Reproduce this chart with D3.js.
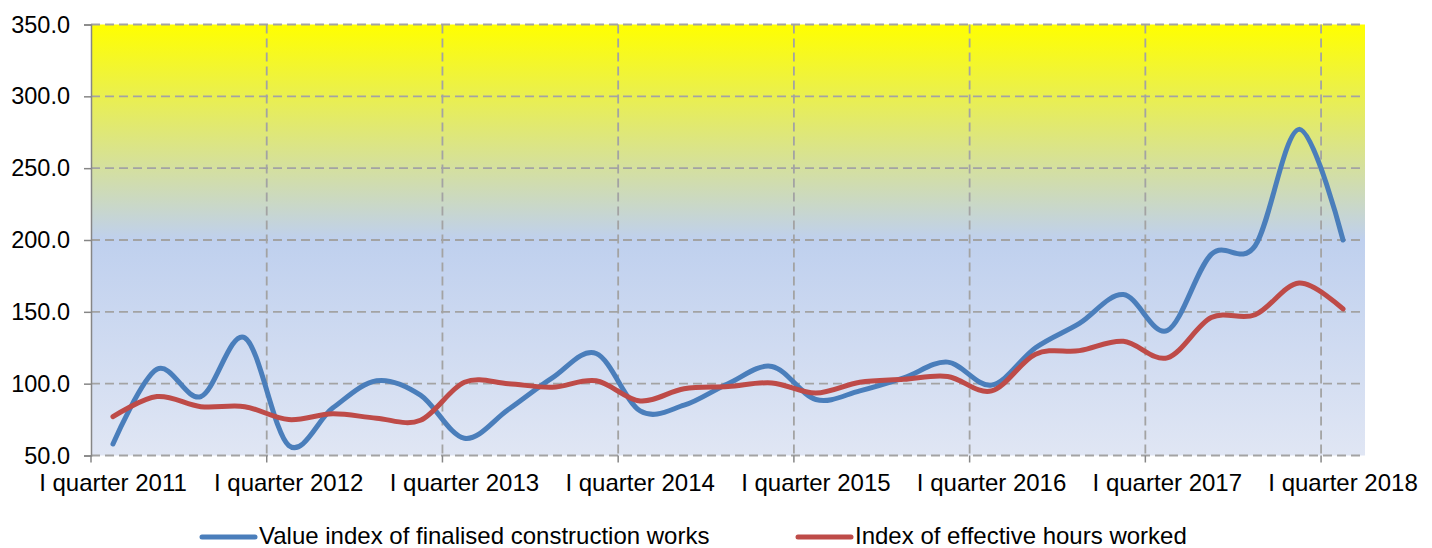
<!DOCTYPE html>
<html>
<head>
<meta charset="utf-8">
<script src="https://cdn.jsdelivr.net/npm/d3@7"></script>
<style>
  html, body { margin: 0; padding: 0; background: #ffffff; }
  svg { display: block; }
  text { font-family: "Liberation Sans", Arial, sans-serif; fill: #000; }
</style>
</head>
<body>
<svg id="chart" width="1432" height="548"></svg>
<script>
// ---- data ----
const categories = [
  "I quarter 2011","II quarter 2011","III quarter 2011","IV quarter 2011",
  "I quarter 2012","II quarter 2012","III quarter 2012","IV quarter 2012",
  "I quarter 2013","II quarter 2013","III quarter 2013","IV quarter 2013",
  "I quarter 2014","II quarter 2014","III quarter 2014","IV quarter 2014",
  "I quarter 2015","II quarter 2015","III quarter 2015","IV quarter 2015",
  "I quarter 2016","II quarter 2016","III quarter 2016","IV quarter 2016",
  "I quarter 2017","II quarter 2017","III quarter 2017","IV quarter 2017",
  "I quarter 2018"
];
const valueIndex = [58, 110, 91, 132, 57, 83, 102, 92, 62, 82, 104, 121, 81, 85, 100, 112,
                    89, 95, 104, 115, 99, 125, 142, 162, 137, 190, 196, 277, 200];
const hoursIndex = [77, 91, 84, 84, 75, 79, 76, 74.5, 101, 100, 97.5, 102, 88, 96.5, 98, 100.5,
                    93.5, 101, 103, 105, 95, 120.5, 123, 129.5, 118, 146, 148, 170, 152];
const seriesNames = ["Value index of finalised construction works", "Index of effective hours worked"];
const yTicks = [50, 100, 150, 200, 250, 300, 350];
const labelledCategories = ["I quarter 2011","I quarter 2012","I quarter 2013","I quarter 2014",
                            "I quarter 2015","I quarter 2016","I quarter 2017","I quarter 2018"];

// ---- layout ----
const svg = d3.select("#chart");
const plotL = 91, plotR = 1365, plotT = 24.5, plotB = 455.5;
const colors = ["#4A7EBB", "#BE4B48"];
const gridColor = "#A3A3A3";

const x = d3.scaleBand().domain(categories).range([plotL, plotR]).padding(0);
const y = d3.scaleLinear().domain([50, 350]).range([plotB, plotT]);
const cx = c => x(c) + x.bandwidth() / 2;

// background gradient
const defs = svg.append("defs");
const grad = defs.append("linearGradient").attr("id", "bg").attr("x1", 0).attr("y1", 0).attr("x2", 0).attr("y2", 1);
grad.append("stop").attr("offset", "0%").attr("stop-color", "#FFFF00");
grad.append("stop").attr("offset", "50%").attr("stop-color", "#BFD0EE");
grad.append("stop").attr("offset", "100%").attr("stop-color", "#E0E6F4");
svg.append("rect").attr("x", plotL).attr("y", plotT).attr("width", plotR - plotL).attr("height", plotB - plotT)
  .attr("fill", "url(#bg)");

// horizontal gridlines
svg.append("g").selectAll("line").data(yTicks).join("line")
  .attr("x1", plotL).attr("x2", plotR)
  .attr("y1", d => y(d)).attr("y2", d => y(d))
  .attr("stroke", gridColor).attr("stroke-width", 1.8).attr("stroke-dasharray", "9,5");

// vertical gridlines at category boundaries every 4 quarters
const boundaryCats = labelledCategories.slice(1);
svg.append("g").selectAll("line").data(boundaryCats).join("line")
  .attr("x1", d => x(d)).attr("x2", d => x(d))
  .attr("y1", plotT).attr("y2", plotB)
  .attr("stroke", gridColor).attr("stroke-width", 1.8).attr("stroke-dasharray", "9,5");

// y axis
const yAxis = d3.axisLeft(y).tickValues(yTicks).tickSize(7).tickPadding(14).tickFormat(d3.format(".1f"));
const gy = svg.append("g").attr("transform", `translate(${plotL},0)`).call(yAxis);
gy.select(".domain").attr("stroke", "#868686").attr("stroke-width", 1.5);
gy.selectAll(".tick line").attr("stroke", "#868686").attr("stroke-width", 1.5);
gy.selectAll(".tick text").attr("font-size", 23.5).attr("font-family", "Liberation Sans, Arial, sans-serif").attr("fill", "#000");

// x axis
const xAxis = d3.axisBottom(x).tickValues(labelledCategories).tickSize(0).tickPadding(18);
const gx = svg.append("g").attr("transform", `translate(0,${plotB})`).call(xAxis);
gx.select(".domain").remove();
gx.selectAll(".tick text").attr("font-size", 24).attr("font-family", "Liberation Sans, Arial, sans-serif").attr("fill", "#000");
// tick marks at boundaries
svg.append("g").selectAll("line").data(labelledCategories).join("line")
  .attr("x1", d => x(d)).attr("x2", d => x(d))
  .attr("y1", plotB).attr("y2", plotB + 7)
  .attr("stroke", "#868686").attr("stroke-width", 1.5);

// lines
const line = d3.line().x((d, i) => cx(categories[i])).y(d => y(d)).curve(d3.curveCatmullRom.alpha(0));
[valueIndex, hoursIndex].forEach((vals, k) => {
  svg.append("path").datum(vals).attr("d", line)
    .attr("fill", "none").attr("stroke", colors[k]).attr("stroke-width", 5)
    .attr("stroke-linecap", "round").attr("stroke-linejoin", "round");
});

// legend
const legendItems = [{x: 202, tx: 259}, {x: 798, tx: 855}];
legendItems.forEach((p, k) => {
  svg.append("line").attr("x1", p.x).attr("x2", p.x + 53).attr("y1", 537).attr("y2", 537)
    .attr("stroke", colors[k]).attr("stroke-width", 5).attr("stroke-linecap", "round");
  svg.append("text").attr("x", p.tx).attr("y", 544).attr("font-size", 24).text(seriesNames[k]);
});
</script>
</body>
</html>
